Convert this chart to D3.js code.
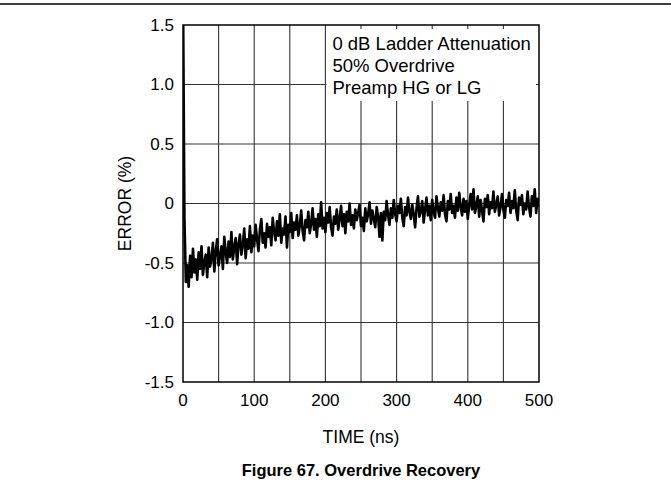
<!DOCTYPE html>
<html>
<head>
<meta charset="utf-8">
<script src="https://cdn.jsdelivr.net/npm/d3@7"></script>
<style>
  body { margin: 0; background: #fff; }
  svg { display: block; }
  text { font-family: "Liberation Sans", Arial, sans-serif; fill: #000; }
</style>
</head>
<body>
<script>
// chart values
var xTicks = [0, 100, 200, 300, 400, 500];
var yTicks = [-1.5, -1.0, -0.5, 0, 0.5, 1.0, 1.5];
var yTickLabels = ["-1.5", "-1.0", "-0.5", "0", "0.5", "1.0", "1.5"];
var xGrid = [50, 100, 150, 200, 250, 300, 350, 400, 450];
var yGrid = [-1.0, -0.5, 0, 0.5, 1.0];
var notes = ["0 dB Ladder Attenuation", "50% Overdrive", "Preamp HG or LG"];

// error (%) sampled every 2 ns from 0 to 500 ns
var timeStep = 2;
var errorPct = [
  1.8, -0.12, -0.66, -0.52, -0.70, -0.44, -0.62, -0.38, -0.58, -0.47,
  -0.64, -0.41, -0.55, -0.36, -0.60, -0.49, -0.43, -0.62, -0.37, -0.53,
  -0.46, -0.33, -0.57, -0.40, -0.30, -0.52, -0.44, -0.36, -0.55, -0.28,
  -0.41, -0.50, -0.32, -0.45, -0.24, -0.47, -0.37, -0.29, -0.51, -0.34,
  -0.26, -0.43, -0.35, -0.21, -0.46, -0.30, -0.38, -0.19, -0.41, -0.27,
  -0.36, -0.18, -0.30, -0.40, -0.22, -0.13, -0.33, -0.25, -0.37, -0.17,
  -0.28, -0.20, -0.35, -0.12, -0.24, -0.31, -0.15, -0.27, -0.09, -0.33,
  -0.21, -0.26, -0.11, -0.37, -0.18, -0.24, -0.08, -0.29, -0.16, -0.22,
  -0.10, -0.27, -0.19, -0.06, -0.23, -0.31, -0.14, -0.20, -0.07, -0.25,
  -0.17, -0.04, -0.22, -0.13, -0.28, -0.09, -0.19, 0.01, -0.21, -0.12,
  -0.24, -0.08, -0.16, -0.03, -0.20, -0.27, -0.11, -0.17, -0.05, -0.22,
  -0.13, -0.02, -0.19, -0.09, -0.25, -0.07, -0.15, 0.00, -0.18, -0.10,
  -0.21, -0.05, -0.14, -0.08, -0.01, -0.19, -0.12, -0.23, -0.04, -0.15,
  -0.09, 0.01, -0.17, -0.06, -0.13, -0.20, -0.03, -0.11, -0.28, -0.08,
  -0.31, -0.07, -0.14, 0.02, -0.10, -0.18, -0.04, -0.12, 0.03, -0.09,
  -0.15, -0.02, -0.08, 0.04, -0.12, -0.19, -0.03, -0.10, 0.05, -0.07,
  -0.13, -0.01, -0.09, -0.20, -0.04, 0.06, -0.11, -0.06, 0.02, -0.16,
  -0.05, 0.05, -0.10, -0.02, -0.14, 0.03, -0.07, -0.12, 0.06, -0.04,
  -0.11, 0.01, -0.06, 0.07, -0.09, -0.15, 0.02, -0.05, 0.08, -0.08,
  -0.02, -0.12, 0.05, -0.06, 0.09, -0.03, -0.10, 0.04, -0.07, 0.02,
  -0.13, -0.01, 0.08, -0.05, 0.12, -0.08, -0.02, 0.06, -0.11, 0.03,
  -0.06, -0.15, 0.04, -0.03, 0.07, -0.09, 0.01, -0.04, 0.10, -0.07,
  -0.01, 0.06, -0.10, -0.03, 0.08, -0.05, -0.12, 0.03, -0.02, 0.09,
  -0.08, 0.02, -0.04, 0.11, -0.06, -0.14, 0.05, -0.01, 0.07, -0.09,
  0.00, -0.05, 0.10, -0.03, -0.11, 0.06, -0.02, 0.12, -0.08, 0.04,
  -0.03
];

var width = 671;
var height = 502;
var plot = { left: 183, right: 539, top: 25, bottom: 382 };

var svg = d3.select("body")
  .append("svg")
  .attr("width", width)
  .attr("height", height);

// rule across the top of the page
svg.append("line")
  .attr("x1", 0).attr("x2", width)
  .attr("y1", 4).attr("y2", 4)
  .attr("stroke", "#000")
  .attr("stroke-width", 1.5);

var xScale = d3.scaleLinear().domain([0, 500]).range([plot.left, plot.right]);
var yScale = d3.scaleLinear().domain([-1.5, 1.5]).range([plot.bottom, plot.top]);

// grid
var grid = svg.append("g").attr("stroke", "#333").attr("stroke-width", 1.1);
grid.selectAll(".vx")
  .data(xGrid)
  .enter()
  .append("line")
  .attr("x1", function (d) { return xScale(d); })
  .attr("x2", function (d) { return xScale(d); })
  .attr("y1", plot.top)
  .attr("y2", plot.bottom);
grid.selectAll(".hy")
  .data(yGrid)
  .enter()
  .append("line")
  .attr("x1", plot.left)
  .attr("x2", plot.right)
  .attr("y1", function (d) { return yScale(d); })
  .attr("y2", function (d) { return yScale(d); });

// clip for the trace
svg.append("clipPath")
  .attr("id", "plotClip")
  .append("rect")
  .attr("x", plot.left)
  .attr("y", plot.top)
  .attr("width", plot.right - plot.left)
  .attr("height", plot.bottom - plot.top);

var line = d3.line()
  .x(function (d, i) { return xScale(i * timeStep); })
  .y(function (d) { return yScale(d); });

svg.append("path")
  .datum(errorPct)
  .attr("clip-path", "url(#plotClip)")
  .attr("fill", "none")
  .attr("stroke", "#000")
  .attr("stroke-width", 2.6)
  .attr("stroke-linejoin", "round")
  .attr("d", line);

// note box, white over the grid
svg.append("rect")
  .attr("x", xScale(200) + 1)
  .attr("y", plot.top + 4)
  .attr("width", xScale(500) - xScale(200) - 4)
  .attr("height", 72)
  .attr("fill", "#fff");

svg.selectAll(".note")
  .data(notes)
  .enter()
  .append("text")
  .attr("class", "note")
  .attr("x", xScale(200) + 7)
  .attr("y", function (d, i) { return 50 + i * 22; })
  .attr("font-size", "18.5px")
  .text(function (d) { return d; });

// frame
svg.append("rect")
  .attr("x", plot.left)
  .attr("y", plot.top)
  .attr("width", plot.right - plot.left)
  .attr("height", plot.bottom - plot.top)
  .attr("fill", "none")
  .attr("stroke", "#000")
  .attr("stroke-width", 1.5);

// tick labels
svg.selectAll(".ylab")
  .data(yTicks)
  .enter()
  .append("text")
  .attr("x", plot.left - 9)
  .attr("y", function (d) { return yScale(d); })
  .attr("dy", "0.35em")
  .attr("text-anchor", "end")
  .attr("font-size", "17px")
  .text(function (d, i) { return yTickLabels[i]; });

svg.selectAll(".xlab")
  .data(xTicks)
  .enter()
  .append("text")
  .attr("x", function (d) { return xScale(d); })
  .attr("y", plot.bottom + 24)
  .attr("text-anchor", "middle")
  .attr("font-size", "17px")
  .text(function (d) { return d; });

// axis titles
svg.append("text")
  .attr("text-anchor", "middle")
  .attr("transform", "rotate(-90)")
  .attr("x", -(plot.top + plot.bottom) / 2)
  .attr("y", 131)
  .attr("font-size", "17.5px")
  .text("ERROR (%)");

svg.append("text")
  .attr("text-anchor", "middle")
  .attr("x", (plot.left + plot.right) / 2)
  .attr("y", 443)
  .attr("font-size", "17.5px")
  .text("TIME (ns)");

svg.append("text")
  .attr("text-anchor", "middle")
  .attr("x", (plot.left + plot.right) / 2)
  .attr("y", 476)
  .attr("font-size", "16.5px")
  .attr("font-weight", "bold")
  .text("Figure 67. Overdrive Recovery");
</script>
</body>
</html>
